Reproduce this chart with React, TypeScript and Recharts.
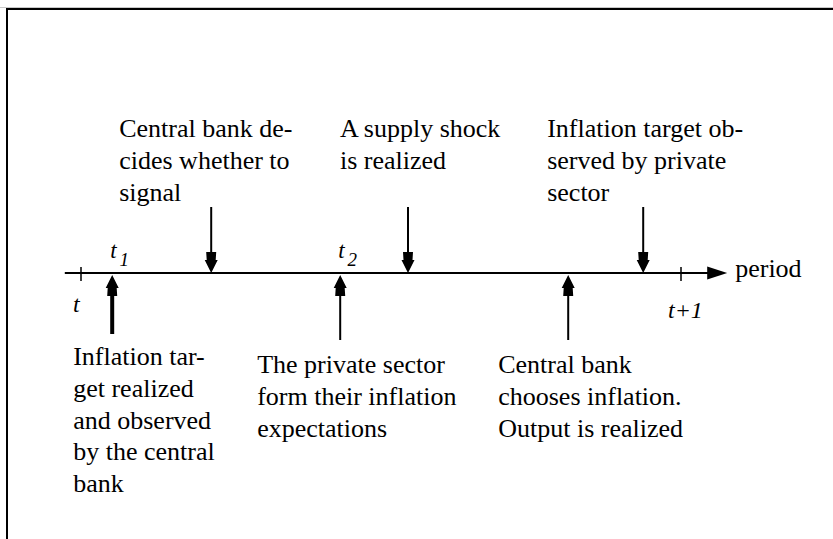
import React from 'react';
import { ComposedChart, XAxis, YAxis, ReferenceLine } from 'recharts';

// period axis: 0 = t, 1 = t+1
const axisStart = -0.027;
const axisEnd = 1.077;
const axisName = 'period';

const tickPositions = [0, 1];
const tickLabels = ['t', 't+1'];

const eventPositions = [0.052, 0.217, 0.432, 0.545, 0.812, 0.937];
const eventDirections = ['up', 'down', 'up', 'down', 'up', 'down'];
const eventSubscripts = ['1', '', '2', '', '', ''];
const eventLabels = [
  ['Inflation tar-', 'get realized', 'and observed', 'by the central', 'bank'],
  ['Central bank de-', 'cides whether to', 'signal'],
  ['The private sector', 'form their inflation', 'expectations'],
  ['A supply shock', 'is realized'],
  ['Central bank', 'chooses inflation.', 'Output is realized'],
  ['Inflation target ob-', 'served by private', 'sector'],
];

// layout only
const W = 833;
const H = 539;
const FONT = '"Liberation Serif", "Times New Roman", serif';
const LINE_H = 31.8;
const arrowTail = [-61, 66, -67, 66, -67, 66];
const labelDx = [-39, -92, -83, -68, -70, -96];
const labelDy = [31, -70, 33, -70, 33, -70];
const shaftWidth = [4, 2, 2, 2, 2, 2];

function head(x: number, ty: number, dir: string) {
  const s = dir === 'down' ? -1 : 1;
  const pts = [
    [x - 5, ty + s * 21],
    [x + 5, ty + s * 21],
    [x + 4.5, ty + s * 13],
    [x + 6.5, ty + s * 13],
    [x, ty],
    [x - 6.5, ty + s * 13],
    [x - 4.5, ty + s * 13],
  ];
  return <polygon points={pts.map((p) => p.join(',')).join(' ')} fill="#000" />;
}

function EventArrow(props: any) {
  const { x1, y1, y2, i } = props;
  const dir = eventDirections[i];
  const sub = eventSubscripts[i];
  return (
    <g>
      <line x1={x1} y1={y1} x2={x1} y2={y2 + (dir === 'down' ? -10 : 10)} stroke="#000" strokeWidth={shaftWidth[i]} />
      {head(x1, y2, dir)}
      <text x={x1 + labelDx[i]} y={y1 + labelDy[i]} fontFamily={FONT} fontSize={26} fill="#000">
        {eventLabels[i].map((l, k) => (
          <tspan key={k} x={x1 + labelDx[i]} dy={k === 0 ? 0 : LINE_H}>
            {l}
          </tspan>
        ))}
      </text>
      {sub && (
        <text x={x1 - 2} y={258} fontFamily={FONT} fontStyle="italic" fontSize={23} fill="#000">
          t
          <tspan fontSize={19} dx={3} dy={8}>
            {sub}
          </tspan>
        </text>
      )}
    </g>
  );
}

function TickMark(props: any) {
  const { x1, y1, y2, i } = props;
  const lx = i === 0 ? x1 - 8 : x1 - 13;
  const ly = i === 0 ? 312 : 318;
  return (
    <g>
      <line x1={x1} y1={y1} x2={x1} y2={y2} stroke="#000" strokeWidth={1.5} />
      <text x={lx} y={ly} fontFamily={FONT} fontStyle="italic" fontSize={24} fill="#000">
        {tickLabels[i]}
      </text>
    </g>
  );
}

function TimeAxis(props: any) {
  const { x1, y1, x2 } = props;
  return (
    <g>
      <line x1={x1} y1={y1} x2={x2 - 6} y2={y1} stroke="#000" strokeWidth={2} />
      <polygon points={`${x2 - 20},${y1 - 6.5} ${x2},${y1} ${x2 - 20},${y1 + 6.5}`} fill="#000" />
      <text x={x2 + 8} y={y1 + 4} fontFamily={FONT} fontSize={26} fill="#000">
        {axisName}
      </text>
    </g>
  );
}

export default function App() {
  // x: period fraction mapped so that t sits at 81px and t+1 at 681px
  const xDomain = [-81 / 600, (W - 81) / 600];
  // y: pixels above the time line (line at 273px)
  const yDomain = [273 - H, 273];
  return (
    <div style={{ position: 'absolute', left: 0, top: 0, width: W, height: H, background: '#fff', overflow: 'hidden' }}>
      <div style={{ position: 'absolute', left: 0, top: 7, width: W, height: 1, background: '#c8c8c8' }} />
      <div
        style={{
          position: 'absolute',
          left: 6,
          top: 8,
          width: W + 20,
          height: H + 20,
          borderLeft: '2.5px solid #000',
          borderTop: '2.5px solid #000',
        }}
      />
      <div style={{ position: 'absolute', left: 0, top: 0 }}>
        <ComposedChart width={W} height={H} margin={{ top: 0, right: 0, bottom: 0, left: 0 }} data={[]}>
          <XAxis type="number" dataKey="x" domain={xDomain} allowDataOverflow hide />
          <YAxis type="number" dataKey="y" domain={yDomain} allowDataOverflow hide />
          <ReferenceLine
            segment={[{ x: axisStart, y: 0 }, { x: axisEnd, y: 0 }]}
            ifOverflow="visible"
            shape={(p: any) => <TimeAxis {...p} />}
          />
          {tickPositions.map((t, i) => (
            <ReferenceLine
              key={'t' + i}
              segment={[{ x: t, y: 6 }, { x: t, y: -8 }]}
              ifOverflow="visible"
              shape={(p: any) => <TickMark {...p} i={i} />}
            />
          ))}
          {eventPositions.map((e, i) => (
            <ReferenceLine
              key={'e' + i}
              segment={[{ x: e, y: arrowTail[i] }, { x: e, y: eventDirections[i] === 'down' ? 0 : -2 }]}
              ifOverflow="visible"
              shape={(p: any) => <EventArrow {...p} i={i} />}
            />
          ))}
        </ComposedChart>
      </div>
    </div>
  );
}
